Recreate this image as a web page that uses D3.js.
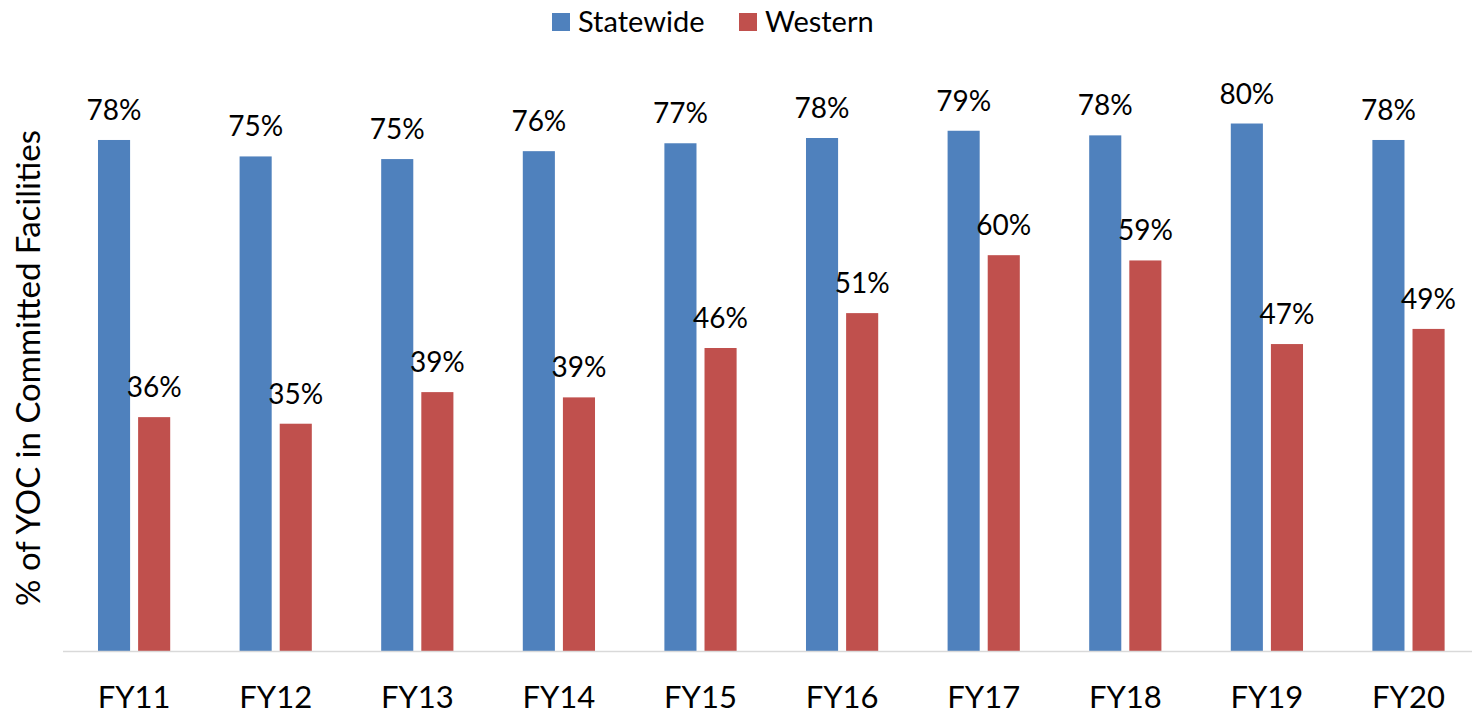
<!DOCTYPE html>
<meta charset="utf-8">
<script src="https://d3js.org/d3.v7.min.js"></script>
<style>
  body { margin: 0; background: #fff; }
  text { font-family: Lato, "Open Sans", sans-serif; fill: #000; }
</style>
<div id="chart"></div>
<script>
  // chart data
  let years = ["FY11", "FY12", "FY13", "FY14", "FY15", "FY16", "FY17", "FY18", "FY19", "FY20"];
  let seriesNames = ["Statewide", "Western"];
  let statewide = [77.7, 75.2, 74.8, 76.0, 77.2, 78.0, 79.1, 78.4, 80.2, 77.7];
  let western = [35.6, 34.6, 39.4, 38.6, 46.1, 51.4, 60.2, 59.4, 46.7, 49.0];
  let colors = ["#4f81bd", "#c0504d"];

  let width = 1472, height = 715;
  let baseY = 651.5;

  let svg = d3.select("#chart").append("svg")
      .attr("width", width)
      .attr("height", height);

  let x0 = d3.scaleBand()
      .domain(years)
      .range([63.3, 1479.3])
      .paddingInner(0.49)
      .paddingOuter(0.245);

  let x1 = d3.scaleBand()
      .domain(seriesNames)
      .range([0, x0.bandwidth()])
      .paddingInner(0.2);

  let y = d3.scaleLinear()
      .domain([0, 90])
      .range([baseY, 59]);

  let color = d3.scaleOrdinal().domain(seriesNames).range(colors);

  // rows: one per year, with both series
  let rows = years.map((yr, i) => ({ year: yr, values: [
      { key: "Statewide", value: statewide[i] },
      { key: "Western", value: western[i] } ] }));

  let groups = svg.selectAll("g.year")
      .data(rows)
      .enter().append("g")
      .attr("class", "year")
      .attr("transform", d => "translate(" + x0(d.year) + ",0)");

  groups.selectAll("rect")
      .data(d => d.values)
      .enter().append("rect")
      .attr("x", d => x1(d.key))
      .attr("y", d => y(d.value))
      .attr("width", x1.bandwidth())
      .attr("height", d => baseY - y(d.value))
      .attr("fill", d => color(d.key));

  // value labels
  groups.selectAll("text.lbl")
      .data(d => d.values)
      .enter().append("text")
      .attr("class", "lbl")
      .attr("x", d => x1(d.key) + x1.bandwidth() / 2)
      .attr("y", d => y(d.value) - 20)
      .attr("text-anchor", "middle")
      .style("font-size", "28px")
      .text(d => Math.round(d.value) + "%");

  // x axis baseline
  let xAxis = svg.append("g")
      .attr("transform", "translate(0," + baseY + ")")
      .call(d3.axisBottom(x0).tickSize(0).tickPadding(34));
  xAxis.select(".domain").attr("stroke", "#d9d9d9").attr("stroke-width", 1.5)
      .attr("d", "M" + (63) + ",0H" + width);
  xAxis.selectAll("text")
      .style("font-size", "31px")
      .attr("dy", "0.71em")
      .attr("fill", "#000");

  // y axis title
  svg.append("text")
      .attr("transform", "translate(40,368) rotate(-90)")
      .attr("text-anchor", "middle")
      .style("font-size", "33px")
      .text("% of YOC in Committed Facilities");

  // legend
  let legendX = [552, 739];
  let legend = svg.selectAll("g.legend")
      .data(seriesNames)
      .enter().append("g")
      .attr("class", "legend")
      .attr("transform", (d, i) => "translate(" + legendX[i] + ",13)");
  legend.append("rect")
      .attr("width", 18).attr("height", 18)
      .attr("fill", d => color(d));
  legend.append("text")
      .attr("x", 26).attr("y", 19)
      .style("font-size", "29px")
      .text(d => d);
</script>
